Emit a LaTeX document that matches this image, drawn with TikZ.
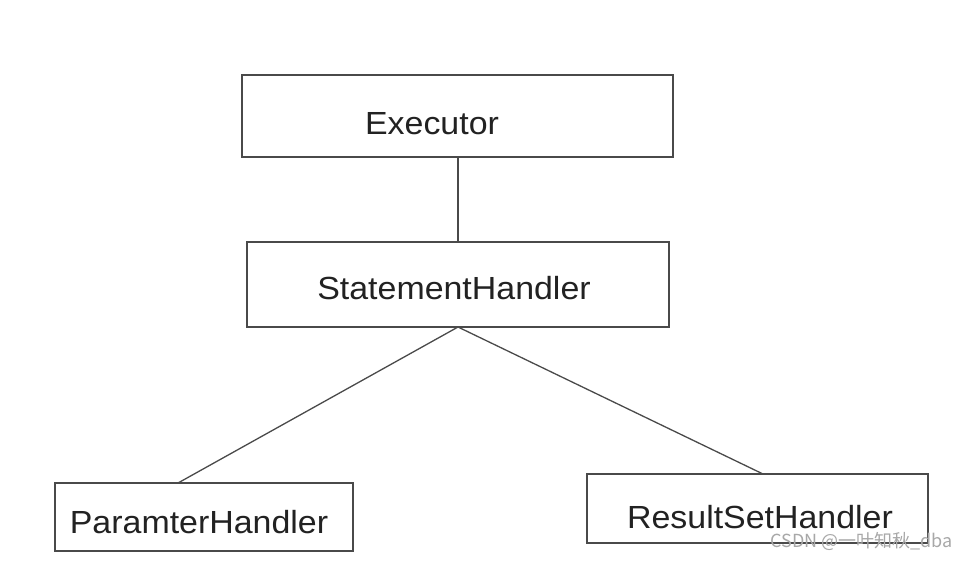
\documentclass[tikz,border=0pt]{standalone}
\usepackage{fontspec}
\setmainfont{Liberation Sans}
\newfontfamily\cjkfont{Noto Sans CJK SC}
\definecolor{linegray}{HTML}{4A4A4A}
\definecolor{txtgray}{HTML}{222222}
\definecolor{wmgray}{HTML}{A8A8A8}
\tikzset{
  box/.style={draw=linegray, line width=1.5pt, rectangle, inner sep=0pt, fill=white},
  conn/.style={draw=linegray, line width=1.3pt},
  lbl/.style={anchor=base, inner sep=0pt, text=txtgray, font=\fontsize{32}{36}\selectfont},
  wm/.style={anchor=base east, inner sep=0pt, text=wmgray, font=\fontsize{18}{20}\selectfont\cjkfont}
}
\newcommand{\wideText}[1]{\scalebox{1.06}[1]{#1}}
\begin{document}
\begin{tikzpicture}[x=1pt,y=-1pt]
\useasboundingbox[fill=white] (0,0) rectangle (968,560);
% boxes
\node[box, minimum width=431pt, minimum height=82pt] (exec) at (457.5,116) {};
\node[box, minimum width=422pt, minimum height=85pt] (stmt) at (458,284.5) {};
\node[box, minimum width=298pt, minimum height=68pt] (param) at (204,517) {};
\node[box, minimum width=341pt, minimum height=69pt] (result) at (757.5,508.5) {};
% labels
\node[lbl] (lexec) at (432,134) {\wideText{Executor}};
\node[lbl] (lstmt) at (454,299) {\wideText{StatementHandler}};
\node[lbl] (lparam) at (199,533) {\wideText{ParamterHandler}};
\node[lbl] (lresult) at (760,528) {\wideText{ResultSetHandler}};
% connectors
\coordinate (apex) at (458,327);
\coordinate (pend) at (178,483);
\coordinate (rend) at (763,474);
\draw[conn] (exec.south -| apex) -- (stmt.north -| apex);
\draw[conn] (apex) -- (pend);
\draw[conn] (apex) -- (rend);
% watermark
\node[wm] (wmark) at (953,547) {CSDN @一叶知秋\_dba};
\end{tikzpicture}
\end{document}
